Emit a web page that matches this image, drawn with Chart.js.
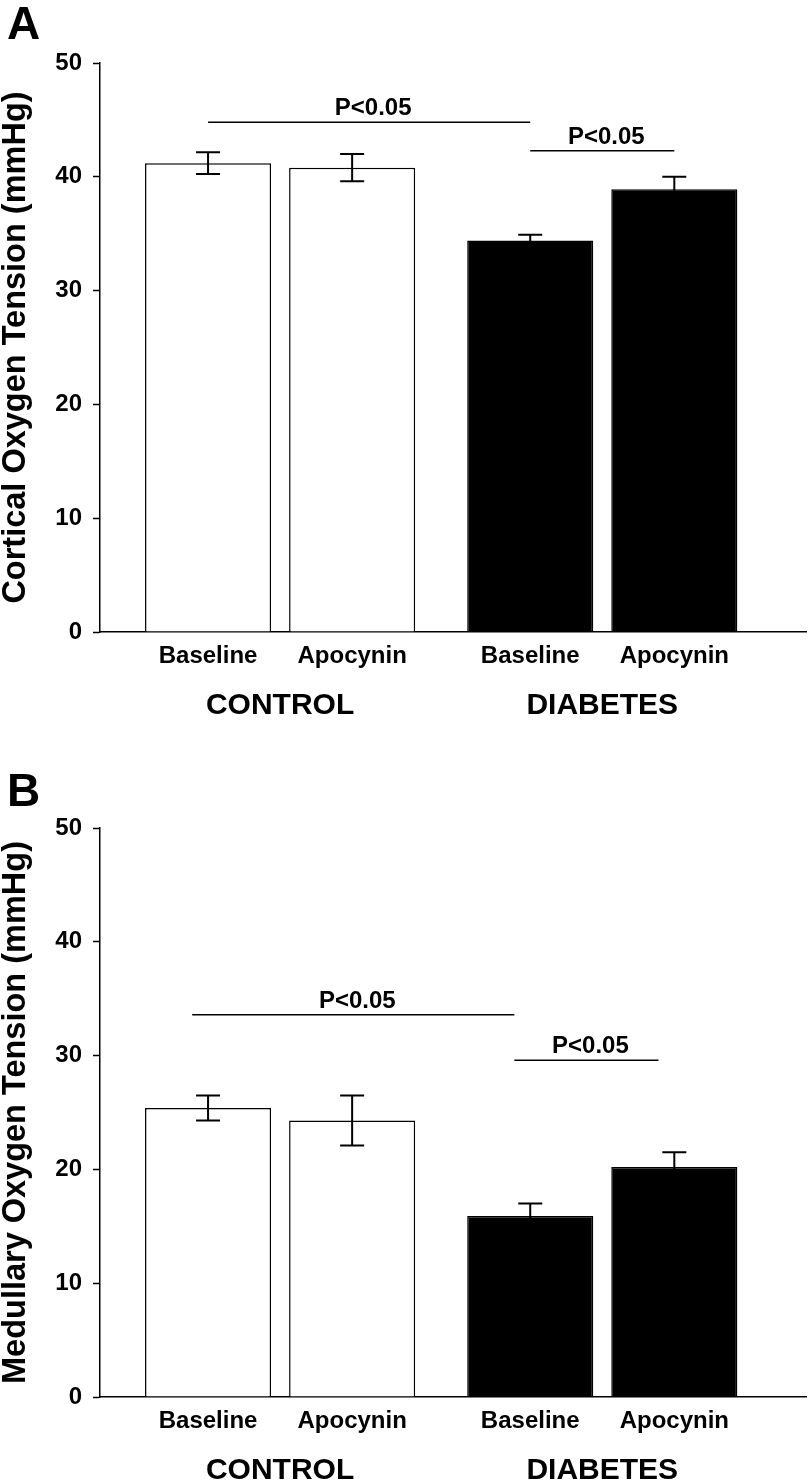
<!DOCTYPE html>
<html><head><meta charset="utf-8">
<script src="https://cdn.jsdelivr.net/npm/chart.js@4.4.1/dist/chart.umd.min.js"></script>
<style>
html,body{margin:0;padding:0;background:#fff;overflow:hidden;width:808px;height:1483px;}
#a{position:absolute;left:0;top:0;width:808px;height:741px;}
#b{position:absolute;left:0;top:741px;width:808px;height:765px;}
</style></head><body>
<div id="a"><canvas id="ca"></canvas></div>
<div id="b"><canvas id="cb"></canvas></div>
<script>
// ---- data ----
const categories = ['Baseline', 'Apocynin', 'Baseline', 'Apocynin'];
const groups = ['CONTROL', 'DIABETES'];
const groupOf = [0, 0, 1, 1];
const corticalMeans = [41.2, 40.8, 34.4, 38.9];
const corticalSEM = [0.95, 1.2, 0.5, 1.1];
const medullaryMeans = [25.4, 24.3, 15.9, 20.2];
const medullarySEM = [1.1, 2.2, 1.1, 1.3];
const yTicks = [0, 10, 20, 30, 40, 50];
const sigLabel = 'P<0.05';
const corticalSigFrom = [0, 2];
const corticalSigTo = [2, 3];
const corticalSigY = [44.8, 42.3];
const medullarySigFrom = [0, 2];
const medullarySigTo = [2, 3];
const medullarySigY = [33.6, 29.6];

// ---- layout helpers ----
const FONT = "'Liberation Sans', Arial, sans-serif";
const GROUP_GAP = 0.236;
const barPos = i => i + groupOf[i] * GROUP_GAP;
const X_MIN = -0.75, X_MAX = 4.15;

const overlay = {
  id: 'overlay',
  afterDatasetsDraw(chart, args, o) {
    const ctx = chart.ctx, x = chart.scales.x, y = chart.scales.y;
    ctx.save();
    ctx.strokeStyle = '#000';
    // error bars
    ctx.lineWidth = 2;
    o.means.forEach((m, i) => {
      const cx = x.getPixelForValue(barPos(i));
      const yt = y.getPixelForValue(m + o.sem[i]);
      const yb = y.getPixelForValue(m - o.sem[i]);
      ctx.beginPath();
      ctx.moveTo(cx, yt); ctx.lineTo(cx, yb);
      ctx.moveTo(cx - 12, yt); ctx.lineTo(cx + 12, yt);
      ctx.moveTo(cx - 12, yb); ctx.lineTo(cx + 12, yb);
      ctx.stroke();
    });
    // significance lines
    ctx.lineWidth = 1.5;
    ctx.fillStyle = '#000';
    ctx.font = 'bold 24px ' + FONT;
    ctx.textAlign = 'center';
    ctx.textBaseline = 'alphabetic';
    o.sigFrom.forEach((f, k) => {
      const x1 = x.getPixelForValue(barPos(f) + o.shift);
      const x2 = x.getPixelForValue(barPos(o.sigTo[k]) + o.shift);
      const yy = y.getPixelForValue(o.sigY[k]);
      ctx.beginPath(); ctx.moveTo(x1, yy); ctx.lineTo(x2, yy); ctx.stroke();
      ctx.fillText(sigLabel, (x1 + x2) / 2 + 4, yy - 7);
    });
    // panel letter
    ctx.font = 'bold 46px ' + FONT;
    ctx.textAlign = 'left';
    ctx.textBaseline = 'top';
    ctx.fillText(o.letter, o.letterX, o.letterY);
    ctx.restore();
  }
};

function makeChart(id, means, sem, sigFrom, sigTo, sigY, shift, title, letter, letterY, padTop) {
  return new Chart(document.getElementById(id), {
    type: 'bar',
    data: {
      datasets: [{
        data: means.map((v, i) => ({ x: barPos(i), y: v })),
        backgroundColor: means.map((v, i) => groupOf[i] === 0 ? '#ffffff' : '#000000'),
        borderColor: '#000',
        borderWidth: 1.5,
        borderSkipped: 'bottom',
        barPercentage: 0.875,
        categoryPercentage: 1
      }]
    },
    options: {
      responsive: true, maintainAspectRatio: false, animation: false,
      layout: { padding: { top: padTop, left: 0, right: 2, bottom: 0 } },
      plugins: {
        legend: { display: false }, tooltip: { enabled: false },
        overlay: { means, sem, sigFrom, sigTo, sigY, shift, letter, letterX: 7, letterY }
      },
      scales: {
        x: {
          type: 'linear', position: 'bottom', min: X_MIN, max: X_MAX, offset: false, bounds: 'data',
          afterBuildTicks: s => { s.ticks = categories.map((c, i) => ({ value: barPos(i) })); },
          afterFit: s => { s.height = 50; },
          grid: { display: false, drawTicks: false, offset: false },
          border: { display: true, color: '#000', width: 1.5 },
          ticks: {
            autoSkip: false, maxRotation: 0, padding: 10, color: '#000',
            font: { family: FONT, size: 24, weight: 'bold' },
            callback: (v, i) => categories[i]
          }
        },
        x2: {
          type: 'linear', position: 'bottom', min: X_MIN, max: X_MAX, offset: false, bounds: 'data',
          afterBuildTicks: s => {
            s.ticks = groups.map((g, gi) => {
              const idx = groupOf.map((q, i) => q === gi ? i : -1).filter(i => i >= 0);
              return { value: (barPos(idx[0]) + barPos(idx[idx.length - 1])) / 2 };
            });
          },
          afterFit: s => { s.height = 59; },
          grid: { display: false, drawTicks: false, offset: false },
          border: { display: false },
          ticks: {
            autoSkip: false, maxRotation: 0, padding: 6, color: '#000',
            font: { family: FONT, size: 30, weight: 'bold' },
            callback: (v, i) => groups[i]
          }
        },
        y: {
          min: 0, max: 50,
          afterBuildTicks: s => { s.ticks = yTicks.map(v => ({ value: v })); },
          afterFit: s => { s.width = 100; },
          grid: { display: true, drawOnChartArea: false, drawTicks: true, tickLength: 7, tickColor: '#000', tickWidth: 1.5 },
          border: { display: true, color: '#000', width: 1.5 },
          ticks: { padding: 11, color: '#000', font: { family: FONT, size: 24, weight: 'bold' } },
          title: {
            display: true, text: title, color: '#000',
            font: { family: FONT, size: 32.5, weight: 'bold', lineHeight: 1 },
            padding: { top: 0, bottom: 0 }
          }
        }
      }
    },
    plugins: [overlay]
  });
}

makeChart('ca', corticalMeans, corticalSEM, corticalSigFrom, corticalSigTo, corticalSigY, 0,
  'Cortical Oxygen Tension (mmHg)', 'A', 3, 63);
makeChart('cb', medullaryMeans, medullarySEM, medullarySigFrom, medullarySigTo, medullarySigY, -0.11,
  'Medullary Oxygen Tension (mmHg)', 'B', 29, 87);
</script>
</body></html>
